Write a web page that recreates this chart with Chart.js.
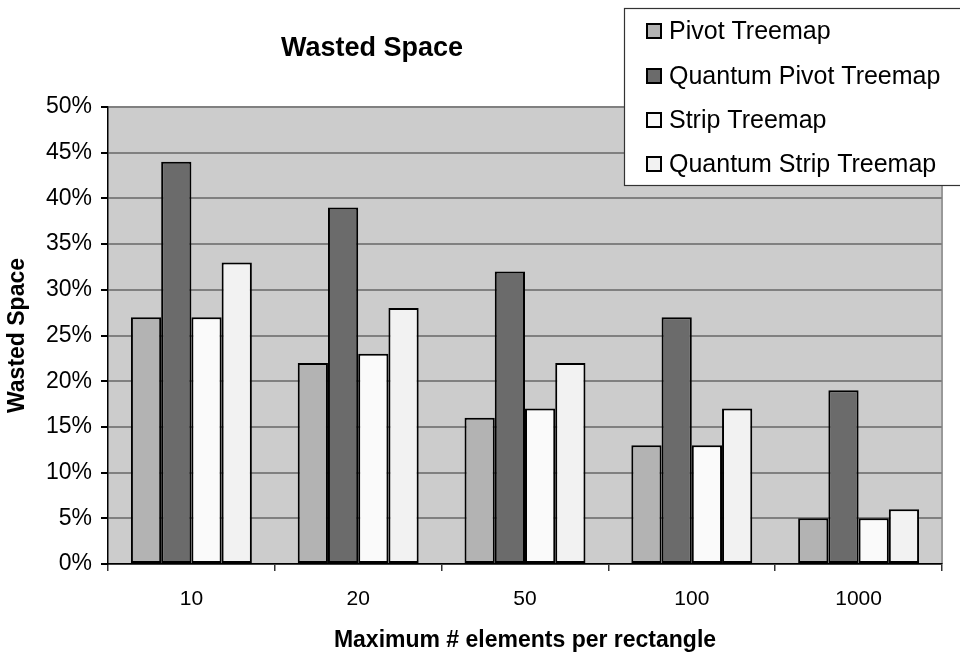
<!DOCTYPE html>
<html>
<head>
<meta charset="utf-8">
<script src="https://cdn.jsdelivr.net/npm/chart.js@4/dist/chart.umd.min.js"></script>
<style>
  html, body { margin: 0; padding: 0; background: #ffffff; }
  #wrap { width: 960px; height: 654px; position: relative; }
</style>
</head>
<body>
<div id="wrap"><canvas id="chart" width="960" height="654"></canvas></div>
<script>
// Maximum number of elements per rectangle
const categories = ['10', '20', '50', '100', '1000'];

// Wasted space (%) per layout algorithm
const pivotTreemap        = [27, 22, 16, 13, 5];
const quantumPivotTreemap = [44, 39, 32, 27, 19];
const stripTreemap        = [27, 23, 17, 13, 5];
const quantumStripTreemap = [33, 28, 22, 17, 6];

const seriesNames  = ['Pivot Treemap', 'Quantum Pivot Treemap', 'Strip Treemap', 'Quantum Strip Treemap'];
const seriesColors = ['#b3b3b3', '#6b6b6b', '#fafafa', '#f2f2f2'];

const FONT = '"Liberation Sans", Arial, Helvetica, sans-serif';

// Grey plot-area fill behind the bars, plus the thin right-hand frame
const plotBackground = {
  id: 'plotBackground',
  beforeDraw(chart) {
    const { ctx, chartArea: a } = chart;
    ctx.save();
    ctx.fillStyle = '#cccccc';
    ctx.fillRect(a.left, a.top, a.right - a.left, a.bottom - a.top);
    ctx.strokeStyle = '#999999';
    ctx.lineWidth = 2;
    ctx.beginPath();
    ctx.moveTo(a.right, a.bottom);
    ctx.lineTo(a.right, a.top);
    ctx.stroke();
    ctx.restore();
  }
};

// Chart title and boxed legend overlapping the top-right corner
const titleAndLegend = {
  id: 'titleAndLegend',
  afterDraw(chart) {
    const { ctx } = chart;
    ctx.save();
    ctx.fillStyle = '#000';
    ctx.font = 'bold 27px ' + FONT;
    ctx.textAlign = 'center';
    ctx.textBaseline = 'alphabetic';
    ctx.fillText('Wasted Space', 372, 56);

    // legend box
    const bx = 624.5, by = 8.5, bw = 360, bh = 177;
    ctx.fillStyle = '#ffffff';
    ctx.fillRect(bx, by, bw, bh);
    ctx.strokeStyle = '#333333';
    ctx.lineWidth = 1.2;
    ctx.strokeRect(bx, by, bw, bh);

    const rows = [31, 76, 120, 164];
    chart.data.datasets.forEach((ds, i) => {
      const cy = rows[i];
      ctx.fillStyle = ds.backgroundColor;
      ctx.fillRect(646, cy - 8, 16, 16);
      ctx.strokeStyle = '#000';
      ctx.lineWidth = 2;
      ctx.strokeRect(647, cy - 7, 14, 14);
      ctx.fillStyle = '#000';
      ctx.font = '25px ' + FONT;
      ctx.textAlign = 'left';
      ctx.textBaseline = 'middle';
      ctx.fillText(ds.label, 669, cy + 1);
    });
    ctx.restore();
  }
};

const datasets = [pivotTreemap, quantumPivotTreemap, stripTreemap, quantumStripTreemap].map((vals, i) => ({
  label: seriesNames[i],
  data: vals,
  backgroundColor: seriesColors[i],
  borderColor: '#000000',
  borderWidth: 2,
  borderSkipped: false,
  categoryPercentage: 0.725,
  barPercentage: 1.0
}));

new Chart(document.getElementById('chart'), {
  type: 'bar',
  data: { labels: categories, datasets },
  options: {
    responsive: false,
    animation: false,
    devicePixelRatio: 1,
    layout: { padding: { top: 107, right: 18, bottom: 0, left: 0 } },
    plugins: {
      legend: { display: false },
      title: { display: false },
      tooltip: { enabled: false }
    },
    scales: {
      x: {
        offset: true,
        grid: {
          display: true,
          drawOnChartArea: false,
          offset: true,
          tickLength: 7,
          tickColor: '#333333',
          lineWidth: 1.5
        },
        border: { display: true, color: '#000000', width: 1.5 },
        ticks: {
          color: '#000',
          font: { family: FONT, size: 21 },
          padding: 16,
          maxRotation: 0
        },
        title: {
          display: true,
          text: 'Maximum # elements per rectangle',
          color: '#000',
          font: { family: FONT, size: 23, weight: 'bold' },
          padding: { top: 0, bottom: 0 }
        },
        afterFit(scale) { scale.height = 90; }
      },
      y: {
        min: 0,
        max: 50,
        ticks: {
          stepSize: 5,
          color: '#000',
          font: { family: FONT, size: 23 },
          padding: 9,
          callback: v => v + '%'
        },
        grid: {
          color: '#808080',
          lineWidth: 2,
          tickLength: 7,
          tickColor: '#000000'
        },
        border: { display: true, color: '#000000', width: 1.5 },
        title: {
          display: true,
          text: 'Wasted Space',
          color: '#000',
          font: { family: FONT, size: 23, weight: 'bold' },
          padding: { top: 4, bottom: 0 }
        },
        afterFit(scale) { scale.width = 108; }
      }
    }
  },
  plugins: [plotBackground, titleAndLegend]
});
</script>
</body>
</html>
